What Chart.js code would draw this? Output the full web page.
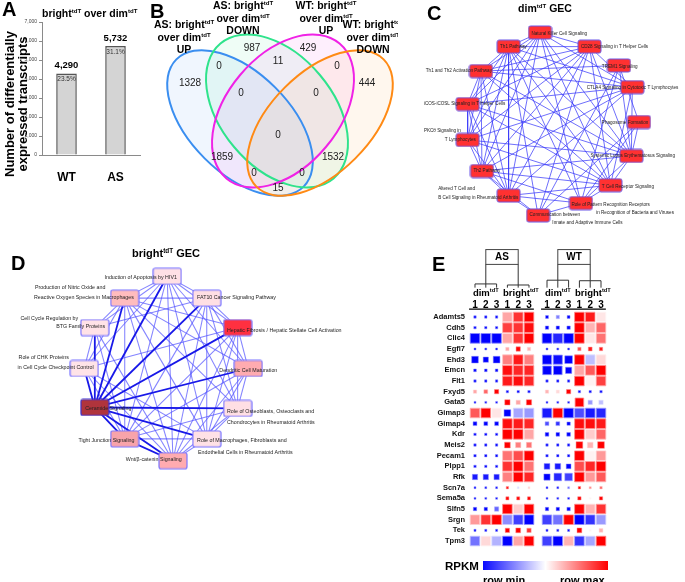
<!DOCTYPE html>
<html><head><meta charset="utf-8">
<script src="https://cdn.jsdelivr.net/npm/chart.js@4.4.1/dist/chart.umd.min.js"></script>
<style>
html,body{margin:0;padding:0;background:#fff;}
body{width:685px;height:582px;position:relative;overflow:hidden;font-family:"Liberation Sans",Arial,Helvetica,sans-serif;}
canvas{position:absolute;}
.letter{position:absolute;font-weight:bold;font-size:20px;line-height:20px;color:#000;z-index:3;}
.t{position:absolute;font-weight:bold;color:#000;white-space:nowrap;line-height:1;z-index:3;}
.c{transform:translateX(-50%);text-align:center;}
.vl{position:absolute;font-weight:bold;font-size:10.5px;line-height:11.5px;text-align:center;white-space:nowrap;transform:translateX(-50%);z-index:3;}
sup{font-size:58%;vertical-align:baseline;position:relative;top:-0.6em;}
.clip{position:absolute;overflow:hidden;z-index:3;}
</style></head><body>
<div class="letter" style="left:2px;top:-1px">A</div>
<div class="letter" style="left:150px;top:1px">B</div>
<div class="letter" style="left:427px;top:3px">C</div>
<div class="letter" style="left:11px;top:253px">D</div>
<div class="letter" style="left:432px;top:254px">E</div>

<div class="t" style="left:42px;top:8px;font-size:10.5px">bright<sup>tdT</sup> over dim<sup>tdT</sup></div>
<div class="t" style="left:-69.5px;top:91px;width:170px;height:26px;font-size:13px;line-height:13px;text-align:center;transform:rotate(-90deg);">Number of differentially<br>expressed transcripts</div>

<div class="vl" style="left:184px;top:19px">AS: bright<sup>tdT</sup><br>over dim<sup>tdT</sup><br>UP</div>
<div class="vl" style="left:243px;top:0px">AS: bright<sup>tdT</sup><br>over dim<sup>tdT</sup><br>DOWN</div>
<div class="vl" style="left:326px;top:0px">WT: bright<sup>tdT</sup><br>over dim<sup>tdT</sup><br>UP</div>
<div class="clip" style="left:320px;top:0px;width:78px;height:70px;"><div class="vl" style="left:53px;top:19px">WT: bright<sup>tdT</sup><br>over dim<sup>tdT</sup><br>DOWN</div></div>

<div class="t c" style="left:545px;top:3px;font-size:10.5px">dim<sup>tdT</sup> GEC</div>
<div class="t c" style="left:166px;top:248px;font-size:11px">bright<sup>tdT</sup> GEC</div>

<div class="t" style="left:445px;top:560.5px;font-size:11.5px">RPKM</div>
<div class="t" style="left:483px;top:574.5px;font-size:11px">row min</div>
<div class="t" style="left:560px;top:574.5px;font-size:11px">row max</div>

<script>
// ================= DATA =================
// Panel A
const barCategories = ['WT', 'AS'];
const barValues = [4290, 5732];
const barPercents = ['23.5%', '31.1%'];
const barTickStep = 1000;
const barMax = 7000;

// Panel B (Venn counts by region)
const vennCounts = [987, 11, 429, 0, 0, 1328, 444, 0, 0, 0, 1859, 1532, 0, 0, 15];

// Panel C (dimtdT GEC network)
const cPathways = [
 ['Natural Killer Cell Signaling'],
 ['CD28 Signaling in T Helper Cells'],
 ['Th1 Pathway'],
 ['TREM1 Signaling'],
 ['Th1 and Th2 Activation Pathway'],
 ['CTLA4 Signaling in Cytotoxic T Lymphocytes'],
 ['iCOS-iCOSL Signaling in T Helper Cells'],
 ['Phagosome Formation'],
 ['PKCθ Signaling in', 'T Lymphocytes'],
 ['Systemic Lupus Erythematosus Signaling'],
 ['Th2 Pathway'],
 ['T Cell Receptor Signaling'],
 ['Altered T Cell and', 'B Cell Signaling in Rheumatoid Arthritis'],
 ['Role of Pattern Recognition Receptors', 'in Recognition of Bacteria and Viruses'],
 ['Communication between', 'Innate and Adaptive Immune Cells']
];
const cEdges = [
 [2,1],[2,0],[2,4],[2,6],[2,8],[2,10],[2,12],[2,5],[2,11],[2,9],[2,13],[2,14],
 [1,0],[1,4],[1,6],[1,8],[1,10],[1,12],[1,5],[1,11],[1,9],[1,14],
 [0,4],[0,6],[0,8],[0,10],[0,11],[0,9],[0,13],[0,5],[0,12],
 [4,6],[4,8],[4,10],[4,12],[4,5],[4,11],[4,9],[4,3],
 [6,8],[6,10],[6,12],[6,5],[6,11],[6,9],
 [8,10],[8,12],[8,5],[8,11],[8,9],
 [10,12],[10,5],[10,11],[10,9],[10,13],[10,14],
 [12,11],[12,14],[12,13],[12,5],
 [5,11],[5,9],[11,9],[11,13],
 [13,7],[13,3],[13,9],[13,14],
 [7,9],[7,3],[7,14],[3,9],[3,14]
];

// Panel D (brighttdT GEC network)
const dPathways = [
 ['Induction of Apoptosis by HIV1'],
 ['Production of Nitric Oxide and', 'Reactive Oxygen Species in Macrophages'],
 ['FAT10 Cancer Signaling Pathway'],
 ['Hepatic Fibrosis / Hepatic Stellate Cell Activation'],
 ['Cell Cycle Regulation by', 'BTG Family Proteins'],
 ['Role of CHK Proteins', 'in Cell Cycle Checkpoint Control'],
 ['Dendritic Cell Maturation'],
 ['Ceramide Signaling'],
 ['Role of Osteoblasts, Osteoclasts and', 'Chondrocytes in Rheumatoid Arthritis'],
 ['Tight Junction Signaling'],
 ['Role of Macrophages, Fibroblasts and', 'Endothelial Cells in Rheumatoid Arthritis'],
 ['Wnt/β-catenin Signaling']
];
const dStrongEdges = [[7,0],[7,1],[7,2],[7,3],[7,4],[7,5],[7,6],[7,8],[7,9],[7,10],[7,11],[9,11]];
const dWeakEdges = [
 [0,1],[0,2],[0,4],[0,3],[0,6],[0,8],[0,9],[0,10],[0,11],[0,5],
 [1,2],[1,3],[1,4],[1,5],[1,9],[1,11],[1,10],[1,6],[1,8],
 [2,3],[2,6],[2,8],[2,10],[2,9],[2,11],[2,4],
 [3,6],[3,8],[3,10],[3,9],[3,11],[3,5],
 [4,5],[4,9],[4,11],[5,9],[5,11],[5,10],
 [6,8],[6,10],[6,9],[6,11],[8,10],[8,9],[8,11],[9,10],[10,11]
];

// Panel E (heatmap)
const genes = ['Adamts5','Cdh5','Clic4','Egfl7','Ehd3','Emcn','Flt1','Fxyd5','Gata5','Gimap3','Gimap4',
 'Kdr','Meis2','Pecam1','Plpp1','Rfk','Scn7a','Sema5a','Slfn5','Srgn','Tek','Tpm3'];
const sampleGroups = ['AS', 'WT'];
const sampleTypes = ['dim', 'bright'];
const replicates = ['1', '2', '3'];
// row-scaled RPKM (-1 = row min, +1 = row max); columns: AS dim1-3, AS bright1-3, WT dim1-3, WT bright1-3
const heatColor = [
 [-1,-1,-1, .35,.8,1, -1,-.5,-1, 1,.9,.1],
 [-1,-1,-1, .75,.8,.95, -1,-1,-1, 1,.3,.6],
 [-1,-1,-1, .35,.8,1, -1,-.85,-1, 1,.1,.55],
 [-1,-1,-1, .35,1,.3, -1,-1,-1, .7,.9,.9],
 [-1,-1,-1, .5,.9,.5, -1,-.95,-1, 1,-.25,.15],
 [-1,-1,-1, .95,.85,.85, -1,-1,-1, .35,.65,1],
 [-1,-1,-1, .9,.95,.85, -1,-1,-1, 1,.05,.75],
 [.35,.6,1, -1,-1,-1, .3,.15,1, -1,-1,-1],
 [-1,-1,-1, 1,.35,1, -1,-1,-1, 1,-.4,-.25],
 [.65,1,.1, -1,-.35,-.4, -.9,1,-1, -.7,-.9,-.85],
 [-1,-1,-1, .95,.9,.85, -.7,-.8,-1, .95,.95,.9],
 [-1,-1,-1, 1,1,.35, -1,-1,-1, 1,.2,.6],
 [-1,-1,-1, 1,.5,.55, -1,-1,-1, 1,.3,1],
 [-1,-1,-1, .55,.7,1, -1,-1,-1, 1,.05,.4],
 [-1,-1,-1, .8,1,.55, -.9,-.9,-1, .7,.85,1],
 [-.9,-.9,-.9, .5,1,.85, -1,-.85,-.75, 1,.4,.65],
 [-1,-1,-1, .9,-.15,.2, -1,-1,-.6, 1,.5,.6],
 [-1,-1,-1, 1,1,1, -1,-1,-1, 1,.05,1],
 [-1,-1,-.6, 1,.2,1, -1,-1,-1, 1,.3,.8],
 [.4,.8,1, -.45,-.75,-1, -.75,-.55,1, -1,-.8,-.4],
 [-1,-1,-1, 1,1,.8, -1,-1,-1, 1,.05,.3],
 [-.55,.15,-.3, -1,.35,1, -.75,-1,.3, -.8,-.35,1]
];
// relative expression magnitude (square size, 1 = full cell)
const heatSize = [
 [.25,.25,.25, 1,1,1, .3,.35,.3, 1,1,1],
 [.25,.25,.25, 1,1,1, .35,.35,.35, 1,1,1],
 [1,1,1, 1,1,1, 1,1,1, 1,1,1],
 [.2,.2,.2, .35,.45,.35, .2,.2,.2, .35,.4,.35],
 [.7,.55,.7, 1,1,1, .95,.95,.8, 1,1,1],
 [.28,.28,.28, 1,1,1, .9,.9,.65, 1,1,1],
 [.25,.25,.25, 1,1,1, .25,.25,.25, 1,1,1],
 [.35,.4,.45, .25,.25,.25, .35,.35,.45, .25,.25,.25],
 [.2,.2,.2, .55,.45,.55, .2,.2,.2, .9,.45,.45],
 [1,1,1, .7,1,1, 1,1,1, 1,1,1],
 [.4,.4,.4, 1,1,1, .4,.4,.35, 1,1,1],
 [.25,.25,.25, 1,1,1, .38,.38,.38, 1,1,1],
 [.25,.25,.25, .6,.55,.55, .25,.25,.25, .7,.6,.7],
 [.25,.25,.25, 1,1,1, .25,.25,.25, 1,1,1],
 [.25,.25,.25, 1,1,1, .6,.6,.5, 1,1,1],
 [.55,.55,.55, 1,1,1, .65,.8,.8, 1,1,1],
 [.2,.2,.2, .25,.2,.2, .2,.2,.2, .25,.22,.25],
 [.2,.2,.2, .32,.32,.32, .2,.2,.2, .35,.2,.35],
 [.35,.35,.45, 1,1,1, .35,.35,.35, 1,1,1],
 [1,1,1, 1,1,1, 1,1,1, 1,1,1],
 [.22,.22,.22, .45,.5,.45, .22,.22,.22, .5,.2,.4],
 [1,1,1, 1,1,1, 1,1,1, 1,1,1]
];
const colorbarRange = [-1, 1];

// ================= LAYOUT / STYLE =================
const FONT = '"Liberation Sans", Arial, Helvetica, sans-serif';
Chart.defaults.font.family = FONT;
Chart.defaults.animation = false;
Chart.defaults.events = [];
Chart.defaults.plugins.legend.display = false;
Chart.defaults.plugins.tooltip.enabled = false;

function mk(left, top, w, h) {
  const c = document.createElement('canvas');
  c.width = w; c.height = h;
  c.style.left = left + 'px'; c.style.top = top + 'px';
  c.style.width = w + 'px'; c.style.height = h + 'px';
  document.body.appendChild(c);
  return c.getContext('2d');
}
const base = {responsive: false, devicePixelRatio: 1, animation: false};
const fmt = v => String(v).replace(/\B(?=(\d{3})+(?!\d))/g, ',');

// ---------- Panel A ----------
const barLabelPlugin = {id: 'barLabels', afterDatasetsDraw(chart) {
  const ctx = chart.ctx;
  chart.getDatasetMeta(0).data.forEach((bar, i) => {
    ctx.save(); ctx.textAlign = 'center'; ctx.fillStyle = '#000';
    ctx.font = 'bold 9.5px ' + FONT; ctx.textBaseline = 'alphabetic';
    ctx.fillText(fmt(barValues[i]), bar.x, bar.y - 5);
    ctx.font = '6.5px ' + FONT; ctx.fillStyle = '#333'; ctx.textBaseline = 'middle';
    ctx.fillText(barPercents[i], bar.x, bar.y + 6);
    ctx.restore();
  });
}};
new Chart(mk(0, 0, 145, 195), {
  type: 'bar',
  data: {labels: barCategories, datasets: [{data: barValues, backgroundColor: '#d4d4d4', borderColor: '#555',
    borderWidth: 1.5, barPercentage: 0.42, categoryPercentage: 1}]},
  options: Object.assign({}, base, {
    layout: {padding: {top: 22, right: 5, left: 0, bottom: 0}},
    scales: {
      x: {grid: {display: false, drawTicks: false}, border: {display: true, color: '#8a8a8a'},
          ticks: {font: {size: 12, weight: 'bold'}, color: '#000', padding: 15},
          afterFit(a) { a.height = 40; }},
      y: {min: 0, max: barMax, ticks: {stepSize: barTickStep, font: {size: 5}, color: '#444', padding: 2},
          grid: {drawOnChartArea: false, drawTicks: true, tickLength: 3, color: '#8a8a8a'},
          border: {display: true, color: '#8a8a8a'},
          afterFit(a) { a.width = 42; }}
    }
  }),
  plugins: [barLabelPlugin]
});

// ---------- Panel B (Venn) ----------
const vennLayout = [[112,48],[138,61],[168,48],[79,66],[197,66],[50,83],[227,83],[101,93],[176,93],
  [138,135],[82,157],[193,157],[114,173],[162,173],[138,188]];
const vennShapes = [
  {cx: 100, cy: 123, a: 90, b: 50, rot: 45, color: '#3a8ef0', fill: 'rgba(58,142,240,0.08)'},
  {cx: 137, cy: 111, a: 88, b: 56, rot: 50, color: '#2fe38c', fill: 'rgba(47,227,140,0.08)'},
  {cx: 143, cy: 111, a: 88, b: 56, rot: -50, color: '#f022e6', fill: 'rgba(240,34,230,0.07)'},
  {cx: 180, cy: 123, a: 90, b: 50, rot: -45, color: '#ff8a14', fill: 'rgba(255,138,20,0.07)'}
];
const vennPlugin = {id: 'venn',
  beforeDatasetsDraw(chart) {
    const {ctx, scales: {x, y}} = chart;
    const sx = Math.abs(x.getPixelForValue(1) - x.getPixelForValue(0));
    const sy = Math.abs(y.getPixelForValue(1) - y.getPixelForValue(0));
    const path = e => { ctx.beginPath(); ctx.ellipse(x.getPixelForValue(e.cx), y.getPixelForValue(e.cy), e.a * sx, e.b * sy, e.rot * Math.PI / 180, 0, Math.PI * 2); };
    ctx.save();
    vennShapes.forEach(e => { path(e); ctx.fillStyle = e.fill; ctx.fill(); });
    vennShapes.forEach(e => { path(e); ctx.strokeStyle = e.color; ctx.lineWidth = 2; ctx.stroke(); });
    ctx.restore();
  },
  afterDatasetsDraw(chart) {
    const ctx = chart.ctx;
    ctx.save(); ctx.font = '10px ' + FONT; ctx.fillStyle = '#222'; ctx.textAlign = 'center'; ctx.textBaseline = 'middle';
    chart.getDatasetMeta(0).data.forEach((p, i) => ctx.fillText(String(vennCounts[i]), p.x, p.y));
    ctx.restore();
  }
};
new Chart(mk(140, 0, 258, 200), {
  type: 'scatter',
  data: {datasets: [{data: vennCounts.map((v, i) => ({x: vennLayout[i][0], y: vennLayout[i][1]})), pointRadius: 0}]},
  options: Object.assign({}, base, {layout: {padding: 0},
    scales: {x: {type: 'linear', display: false, min: 0, max: 258}, y: {type: 'linear', display: false, min: 0, max: 200, reverse: true}}}),
  plugins: [vennPlugin]
});

// ---------- Network helpers ----------
function nodeImage(w, h, fill, stroke, lw) {
  const c = document.createElement('canvas');
  c.width = w + 2; c.height = h + 2;
  const g = c.getContext('2d');
  const r = 2, x = 1, y = 1;
  g.beginPath();
  g.moveTo(x + r, y); g.lineTo(x + w - r, y); g.quadraticCurveTo(x + w, y, x + w, y + r);
  g.lineTo(x + w, y + h - r); g.quadraticCurveTo(x + w, y + h, x + w - r, y + h);
  g.lineTo(x + r, y + h); g.quadraticCurveTo(x, y + h, x, y + h - r);
  g.lineTo(x, y + r); g.quadraticCurveTo(x, y, x + r, y); g.closePath();
  g.fillStyle = fill; g.fill(); g.strokeStyle = stroke; g.lineWidth = lw; g.stroke();
  return c;
}
function labelPlugin(id, lines, at, font) {
  return {id, afterDatasetsDraw(chart) {
    const {ctx, scales: {x, y}} = chart;
    ctx.save(); ctx.font = font; ctx.fillStyle = '#222'; ctx.textBaseline = 'middle'; ctx.textAlign = 'left';
    lines.forEach((ls, i) => ls.forEach((t, j) => ctx.fillText(t, x.getPixelForValue(at[i][j][0]), y.getPixelForValue(at[i][j][1]))));
    ctx.restore();
  }};
}
function edgeSets(edges, pos, color, width) {
  return edges.map(([a, b]) => ({data: [{x: pos[a][0], y: pos[a][1]}, {x: pos[b][0], y: pos[b][1]}],
    showLine: true, pointRadius: 0, borderColor: color, borderWidth: width, order: 2}));
}
function networkChart(ctx, w, h, pathways, pos, imgs, edgeDatasets, labelAt, font) {
  return new Chart(ctx, {
    type: 'scatter',
    data: {datasets: [{data: pathways.map((p, i) => ({x: pos[i][0], y: pos[i][1]})),
      pointStyle: c => imgs[c.dataIndex] || 'circle', pointRadius: 6, order: 0}].concat(edgeDatasets)},
    options: Object.assign({}, base, {layout: {padding: 0},
      scales: {x: {type: 'linear', display: false, min: 0, max: w}, y: {type: 'linear', display: false, min: 0, max: h, reverse: true}}}),
    plugins: [labelPlugin('lbl' + w, pathways, labelAt, font)]
  });
}

// ---------- Panel C ----------
const cLayout = [[145,27],[197,42],[112,42],[228,62],[83,68],[242,85],[69,103],[249,122],[69,141],[241,158],[84,174],[219,189],[112,200],[188,208],[143,221]];
const cLabelAt = [[[136,28]],[[188,42]],[[103,42]],[[210,63]],[[25,68]],[[194,86]],[[23,103]],[[210,123]],[[23,131],[45,141]],
  [[198,158]],[[75,174]],[[210,191]],[[38,193],[38,202]],[[178,210],[204,218]],[[134,220],[158,229]]];
const cImg = nodeImage(23, 13, '#ff3131', '#6b57e6', 1);
networkChart(mk(395, 0, 290, 245), 290, 245, cPathways, cLayout, cPathways.map(() => cImg),
  edgeSets(cEdges, cLayout, 'rgba(55,55,250,0.8)', 0.9), cLabelAt, '4.6px ' + FONT);

// ---------- Panel D ----------
const dLayout = [[166,15],[122,38],[207,38],[239,69],[91,69],[80,112],[250,112],[91,153],[239,154],[122,186],[207,186],[172,209]];
const dLabelAt = [[[101,16]],[[29,27],[28,37]],[[197,37]],[[228,72]],[[14,59],[51,68]],[[12,100],[11,111]],[[220,114]],
  [[81,154]],[[228,157],[228,169]],[[74,188]],[[197,188],[198,200]],[[123,208]]];
const dFill = ['#ffe0e5','#ffbcbe','#ffdfe4','#ff3040','#ffe2e7','#ffe3e8','#ffabb0','#b0343c','#ffdfe4','#f8a3aa','#ffe1e6','#ffabb0'];
const dImgs = dFill.map((f, i) => nodeImage(28, 16, f, i === 7 ? '#3a2fd0' : '#7a74ff', 1.2));
networkChart(mk(0, 255, 400, 285), 400, 285, dPathways, dLayout, dImgs,
  edgeSets(dStrongEdges, dLayout, '#1818e8', 1.8).concat(edgeSets(dWeakEdges, dLayout, 'rgba(85,85,255,0.72)', 1.05)),
  dLabelAt, '5.3px ' + FONT);

// ---------- Panel E ----------
const GROUP_GAP = 0.667, CELL_PX = 9.6;
const colPos = ci => ci + Math.floor(ci / 6) * GROUP_GAP;
const dendro = {boxTop: -6.32, boxBottom: -4.93, join: [[-3.1, -3.0], [-3.45, -3.4]], leafEnd: -2.75,
  typeRow: -2.32, repRow: -1.12, lineRow: -0.74, boxLabelRow: -5.62, typeShift: [0, 0.25]};
function heatRGB(c) {
  if (c >= 0) { const k = Math.round(255 * (1 - c)); return `rgb(255,${k},${k})`; }
  const k = Math.round(255 * (1 + c)); return `rgb(${k},${k},255)`;
}
function richText(ctx, parts, cx, cy, size) {
  const fBase = `bold ${size}px ${FONT}`, fSup = `bold ${size * 0.6}px ${FONT}`;
  let w = 0;
  parts.forEach(([t, s]) => { ctx.font = s ? fSup : fBase; w += ctx.measureText(t).width; });
  let x = cx - w / 2;
  ctx.textAlign = 'left'; ctx.textBaseline = 'alphabetic';
  parts.forEach(([t, s]) => {
    ctx.font = s ? fSup : fBase;
    ctx.fillText(t, x, s ? cy + size * 0.36 - size * 0.42 : cy + size * 0.36);
    x += ctx.measureText(t).width;
  });
}
const heatHeaderPlugin = {id: 'heatHeader', afterDraw(chart) {
  const {ctx, scales: {x, y}} = chart;
  const X = v => x.getPixelForValue(v), Y = v => y.getPixelForValue(v);
  ctx.save();
  sampleGroups.forEach((grp, gi) => {
    const first = colPos(gi * 6);
    const dimC = first + 1, brC = first + 4;
    ctx.strokeStyle = '#444'; ctx.lineWidth = 1;
    ctx.strokeRect(X(dimC), Y(dendro.boxTop), X(brC) - X(dimC), Y(dendro.boxBottom) - Y(dendro.boxTop));
    ctx.fillStyle = '#000'; ctx.font = `bold 10px ${FONT}`; ctx.textAlign = 'center'; ctx.textBaseline = 'middle';
    ctx.fillText(grp, X((dimC + brC) / 2), Y(dendro.boxLabelRow));
    sampleTypes.forEach((tp, ti) => {
      const c0 = first + ti * 3, cc = c0 + 1, h = dendro.join[gi][ti];
      ctx.strokeStyle = '#333'; ctx.lineWidth = 1; ctx.beginPath();
      ctx.moveTo(X(cc), Y(dendro.boxBottom)); ctx.lineTo(X(cc), Y(h));
      ctx.moveTo(X(c0), Y(h)); ctx.lineTo(X(c0 + 2), Y(h));
      for (let k = 0; k < 3; k++) { ctx.moveTo(X(c0 + k), Y(h)); ctx.lineTo(X(c0 + k), Y(dendro.leafEnd)); }
      ctx.stroke();
      ctx.fillStyle = '#000';
      richText(ctx, [[tp, false], ['tdT', true]], X(cc + dendro.typeShift[ti]), Y(dendro.typeRow), 9.5);
      replicates.forEach((r, k) => {
        ctx.font = `bold 10px ${FONT}`; ctx.textAlign = 'center'; ctx.textBaseline = 'middle';
        ctx.fillText(r, X(c0 + k), Y(dendro.repRow));
      });
    });
    ctx.strokeStyle = '#000'; ctx.lineWidth = 1.3; ctx.beginPath();
    ctx.moveTo(X(first - 0.55), Y(dendro.lineRow)); ctx.lineTo(X(first + 5.45), Y(dendro.lineRow)); ctx.stroke();
  });
  ctx.restore();
}};
const heatCells = [];
genes.forEach((g, r) => { for (let ci = 0; ci < 12; ci++) heatCells.push({x: colPos(ci), y: r, c: heatColor[r][ci], s: heatSize[r][ci]}); });
new Chart(mk(400, 240, 285, 342), {
  type: 'scatter',
  data: {datasets: [{data: heatCells, pointStyle: 'rect',
    pointRadius: c => c.raw ? c.raw.s * CELL_PX / Math.SQRT2 : 0,
    backgroundColor: c => c.raw ? heatRGB(c.raw.c) : '#fff',
    borderColor: c => c.raw ? heatRGB(c.raw.c * 0.45) : '#fff',
    borderWidth: c => (c.raw && c.raw.s > 0.8) ? 0.8 : 0.5}]},
  options: Object.assign({}, base, {
    layout: {padding: {left: 0, top: 5, right: 73, bottom: 34}},
    scales: {
      x: {type: 'linear', display: false, min: -0.833, max: 12.685},
      y: {type: 'linear', reverse: true, min: -6.506, max: 21.654,
          grid: {display: false, drawTicks: false}, border: {display: false},
          ticks: {autoSkip: false, padding: 1, font: {size: 7.5, weight: 'bold'}, color: '#111',
                  callback: v => (genes[v] !== undefined ? genes[v] : '')},
          afterBuildTicks: a => { a.ticks = genes.map((_, i) => ({value: i})); },
          afterFit: a => { a.width = 66; }}
    }
  }),
  plugins: [heatHeaderPlugin]
});

// colour bar
new Chart(mk(483, 561, 125, 9), {
  type: 'bar',
  data: {labels: ['RPKM'], datasets: [{data: [colorbarRange], barPercentage: 1, categoryPercentage: 1, borderWidth: 0,
    backgroundColor: c => {
      const a = c.chart.chartArea; if (!a) return '#fff';
      const g = c.chart.ctx.createLinearGradient(a.left, 0, a.right, 0);
      g.addColorStop(0, '#0a0aff'); g.addColorStop(0.5, '#ffffff'); g.addColorStop(1, '#ff0000');
      return g;
    }}]},
  options: Object.assign({}, base, {indexAxis: 'y', layout: {padding: 0},
    scales: {x: {display: false, min: colorbarRange[0], max: colorbarRange[1]}, y: {display: false}}})
});
</script>
</body></html>
